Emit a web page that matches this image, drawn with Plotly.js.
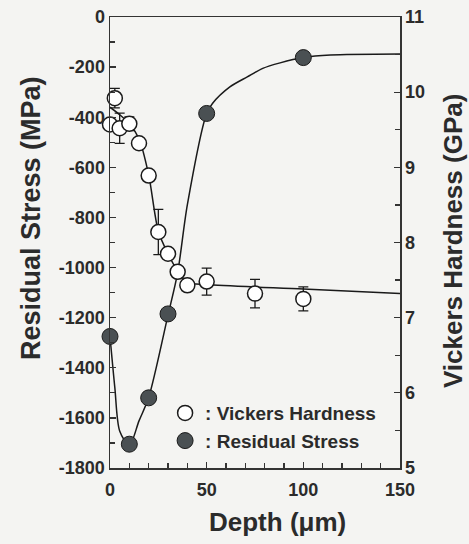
<!DOCTYPE html>
<html>
<head>
<meta charset="utf-8">
<script src="https://cdn.plot.ly/plotly-3.0.1.min.js"></script>
<style>html,body{margin:0;padding:0;background:#f4f4f2;}#chart{width:469px;height:544px;}</style>
</head>
<body>
<div id="chart"></div>
<script>
// Residual stress measurements (filled circles)
const depthStress = [0, 10, 20, 30, 50, 100];
const residualStress = [-1275, -1705, -1520, -1185, -385, -162];
// Vickers hardness measurements (open circles)
const depthHard = [0, 2.5, 5, 10, 15, 20, 25, 30, 35, 40, 50, 75, 100];
const hardness = [9.57, 9.92, 9.52, 9.58, 9.32, 8.89, 8.14, 7.85, 7.61, 7.43, 7.48, 7.32, 7.25];
const hardnessErr = [null, 0.13, 0.2, 0.09, null, null, 0.3, null, null, null, 0.18, 0.19, 0.16];
// fitted curves
const stressFitDepth = [0, 2.5, 5, 10, 15, 20, 30, 35, 40, 50, 53, 62, 71, 79, 88, 100, 114, 150];
const stressFit = [-1275, -1479, -1652, -1710, -1612, -1519, -1190, -1020, -750, -385, -345, -279, -239, -205, -183, -162, -152, -148];
const hardFitDepth = [0, 5, 10, 15, 20, 25, 30, 35, 40, 50, 100, 150];
const hardFit = [9.80, 9.70, 9.58, 9.38, 8.90, 8.15, 7.85, 7.62, 7.47, 7.44, 7.38, 7.32];
// tick labels
const xTicks = [0, 50, 100, 150];
const xTickText = ['0', '50', '100', '150'];
const yTicks = [0, -200, -400, -600, -800, -1000, -1200, -1400, -1600, -1800];
const yTickText = ['0', '-200', '-400', '-600', '-800', '-1000', '-1200', '-1400', '-1600', '-1800'];
const y2Ticks = [5, 6, 7, 8, 9, 10, 11];
const y2TickText = ['5', '6', '7', '8', '9', '10', '11'];
const legendNames = [': Vickers Hardness', ': Residual Stress'];
const titles = {x: 'Depth (μm)', y: 'Residual Stress (MPa)', y2: 'Vickers Hardness (GPa)'};

const FONT = 'Liberation Sans, Arial, sans-serif';
const INK = '#2b2b2b';
const bold = a => a.map(s => '<b>' + s + '</b>');

const traces = [
  {x: hardFitDepth, y: hardFit, yaxis: 'y2', mode: 'lines', line: {color: '#1a1a1a', width: 1.5, shape: 'spline', smoothing: 0.8}, showlegend: false, hoverinfo: 'skip'},
  {x: stressFitDepth, y: stressFit, yaxis: 'y', mode: 'lines', line: {color: '#1a1a1a', width: 1.5, shape: 'spline', smoothing: 0.8}, showlegend: false, hoverinfo: 'skip'},
  {x: depthHard, y: hardness, yaxis: 'y2', mode: 'markers', name: legendNames[0], cliponaxis: false,
   marker: {symbol: 'circle', size: 15, color: '#ffffff', line: {color: '#1a1a1a', width: 1.5}},
   error_y: {type: 'data', array: hardnessErr, visible: true, color: '#1a1a1a', thickness: 1.3, width: 5}},
  {x: depthStress, y: residualStress, yaxis: 'y', mode: 'markers', name: legendNames[1], cliponaxis: false,
   marker: {symbol: 'circle', size: 16, color: '#4a5053', line: {color: '#1a1a1a', width: 1}}}
];

const tickFont = {family: FONT, size: 18, color: INK, weight: 'bold'};
const layout = {
  width: 469, height: 544,
  margin: {l: 110, r: 69, t: 17, b: 76},
  paper_bgcolor: '#f4f4f2', plot_bgcolor: '#f4f4f2',
  font: {family: FONT, color: INK},
  showlegend: true,
  legend: {x: 0.19, y: 0.164, xanchor: 'left', yanchor: 'top', bgcolor: 'rgba(0,0,0,0)', borderwidth: 0,
           font: {family: FONT, size: 19, color: INK, weight: 'bold'}, tracegroupgap: 0, itemwidth: 30},
  xaxis: {range: [0, 150], tickvals: xTicks, ticktext: bold(xTickText), ticks: 'inside', ticklen: 6, tickwidth: 1.3, tickcolor: '#333',
          minor: {dtick: 10, ticks: 'inside', ticklen: 5, tickwidth: 1.2, tickcolor: '#333'},
          showline: true, linecolor: '#333', linewidth: 1.5, mirror: true, showgrid: false, zeroline: false,
          tickfont: tickFont, ticklabelstandoff: 5},
  yaxis: {range: [-1800, 0], tickvals: yTicks, ticktext: bold(yTickText), ticks: 'inside', ticklen: 6, tickwidth: 1.3, tickcolor: '#333',
          minor: {dtick: 100, ticks: 'inside', ticklen: 5, tickwidth: 1.2, tickcolor: '#333'},
          showline: true, linecolor: '#333', linewidth: 1.5, showgrid: false, zeroline: false,
          tickfont: tickFont},
  yaxis2: {range: [5, 11], overlaying: 'y', side: 'right', tickvals: y2Ticks, ticktext: bold(y2TickText), ticks: 'inside', ticklen: 6, tickwidth: 1.3, tickcolor: '#333',
          minor: {dtick: 0.5, ticks: 'inside', ticklen: 5, tickwidth: 1.2, tickcolor: '#333'},
          showline: true, linecolor: '#333', linewidth: 1.5, showgrid: false, zeroline: false,
          tickfont: tickFont},
  annotations: [
    {xref: 'paper', yref: 'paper', x: (277 - 110) / 290, y: (468 - 522) / 451, text: '<b>' + titles.x + '</b>', showarrow: false,
     xanchor: 'center', yanchor: 'middle', font: {family: FONT, size: 26, color: INK}},
    {xref: 'paper', yref: 'paper', x: (31 - 110) / 290, y: (468 - 218) / 451, text: '<b>' + titles.y + '</b>', showarrow: false, textangle: -90,
     xanchor: 'center', yanchor: 'middle', font: {family: FONT, size: 27, color: INK}},
    {xref: 'paper', yref: 'paper', x: (453 - 110) / 290, y: (468 - 241) / 451, text: '<b>' + titles.y2 + '</b>', showarrow: false, textangle: -90,
     xanchor: 'center', yanchor: 'middle', font: {family: FONT, size: 26, color: INK}}
  ]
};

Plotly.newPlot('chart', traces, layout, {displayModeBar: false, staticPlot: true});
</script>
</body>
</html>
